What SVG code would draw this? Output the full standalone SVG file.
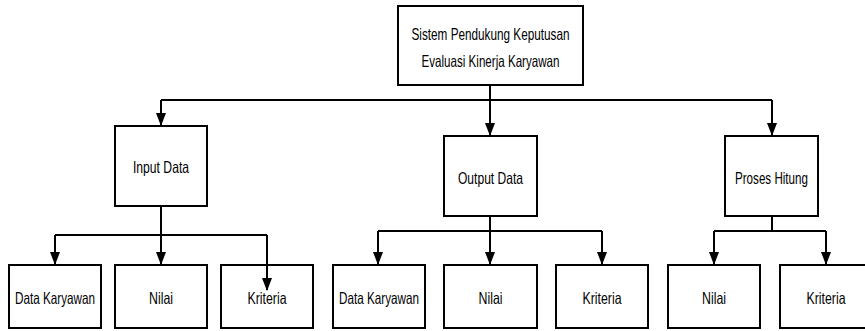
<svg xmlns="http://www.w3.org/2000/svg" width="865" height="331" viewBox="0 0 865 331">
<style>
.box{fill:#fff;stroke:#000;stroke-width:2}
.t{font-family:"Liberation Sans",Arial,sans-serif;font-size:16.5px;fill:#000;text-anchor:middle}
.c{fill:none;stroke:#000;stroke-width:2}
.a{fill:none;stroke:#000;stroke-width:2;marker-end:url(#ah)}
</style>
<defs>
<marker id="ah" viewBox="0 0 13 10" refX="12" refY="5" markerWidth="13" markerHeight="10" markerUnits="userSpaceOnUse" orient="auto">
<path d="M0,0 L13,5 L0,10 z" fill="#000"/>
</marker>
</defs>
<rect width="865" height="331" fill="#fff"/>
<g id="connectors">
<path class="c" d="M490,85 V100 M161,100 H772"/>
<path class="a" d="M161,100 V125"/>
<path class="a" d="M490,100 V135"/>
<path class="a" d="M772,100 V135"/>
<path class="c" d="M161,206 V235 M55,235 H267"/>
<path class="a" d="M55,235 V264"/>
<path class="a" d="M161,235 V264"/>
<path class="c" d="M378,231 H602 M490,216 V231"/>
<path class="a" d="M378,231 V264"/>
<path class="a" d="M490,231 V264"/>
<path class="a" d="M602,231 V264"/>
<path class="c" d="M772,216 V231 M714,231 H826"/>
<path class="a" d="M714,231 V264"/>
<path class="a" d="M826,231 V264"/>
</g>
<g id="n-root"><rect class="box" x="398" y="6" width="185" height="79"/>
<text class="t" x="490.5" y="40" textLength="158" lengthAdjust="spacingAndGlyphs">Sistem Pendukung Keputusan</text>
<text class="t" x="490.5" y="67" textLength="138" lengthAdjust="spacingAndGlyphs">Evaluasi Kinerja Karyawan</text></g>
<g id="n-input"><rect class="box" x="115" y="126" width="92" height="80"/>
<text class="t" x="161" y="173" textLength="56" lengthAdjust="spacingAndGlyphs">Input Data</text></g>
<g id="n-output"><rect class="box" x="444" y="136" width="93" height="80"/>
<text class="t" x="490.5" y="184" textLength="65" lengthAdjust="spacingAndGlyphs">Output Data</text></g>
<g id="n-proses"><rect class="box" x="725" y="136" width="93" height="80"/>
<text class="t" x="771.5" y="184" textLength="73" lengthAdjust="spacingAndGlyphs">Proses Hitung</text></g>
<g id="n-in-data"><rect class="box" x="9" y="265" width="92" height="63"/>
<text class="t" x="55" y="304" textLength="80" lengthAdjust="spacingAndGlyphs">Data Karyawan</text></g>
<g id="n-in-nilai"><rect class="box" x="115" y="265" width="92" height="63"/>
<text class="t" x="161" y="304" textLength="24" lengthAdjust="spacingAndGlyphs">Nilai</text></g>
<g id="n-in-kriteria"><rect class="box" x="221" y="265" width="92" height="63"/>
<text class="t" x="267" y="304" textLength="39" lengthAdjust="spacingAndGlyphs">Kriteria</text></g>
<g id="n-out-data"><rect class="box" x="333" y="265" width="92" height="63"/>
<text class="t" x="379" y="304" textLength="80" lengthAdjust="spacingAndGlyphs">Data Karyawan</text></g>
<g id="n-out-nilai"><rect class="box" x="444" y="265" width="93" height="63"/>
<text class="t" x="490.5" y="304" textLength="24" lengthAdjust="spacingAndGlyphs">Nilai</text></g>
<g id="n-out-kriteria"><rect class="box" x="556" y="265" width="92" height="63"/>
<text class="t" x="602" y="304" textLength="39" lengthAdjust="spacingAndGlyphs">Kriteria</text></g>
<g id="n-pr-nilai"><rect class="box" x="668" y="265" width="92" height="63"/>
<text class="t" x="714" y="304" textLength="24" lengthAdjust="spacingAndGlyphs">Nilai</text></g>
<g id="n-pr-kriteria"><rect class="box" x="780" y="265" width="92" height="63"/>
<text class="t" x="826" y="304" textLength="39" lengthAdjust="spacingAndGlyphs">Kriteria</text></g>
<g id="connector-overlay">
<path class="a" d="M267,235 V290"/>
</g>
</svg>
